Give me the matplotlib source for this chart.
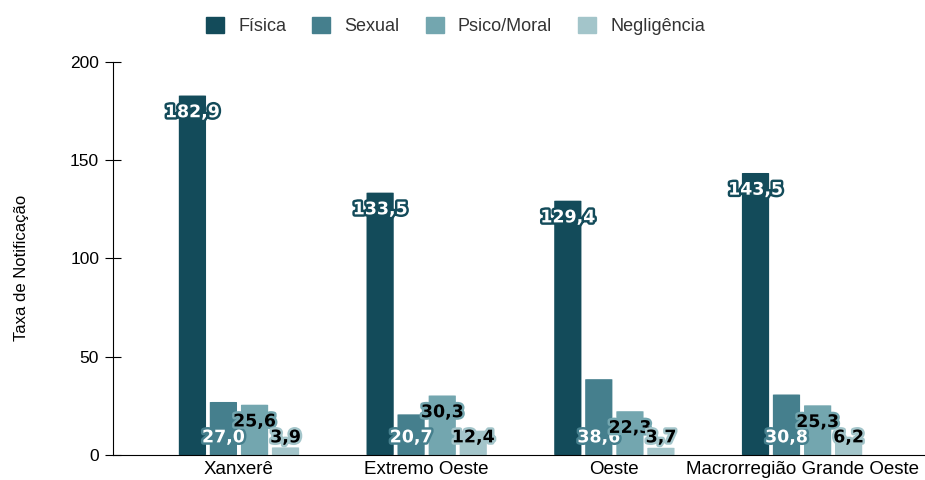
import numpy as np
import matplotlib
matplotlib.use("Agg")
import matplotlib.pyplot as plt
import matplotlib.patheffects as pe
from matplotlib.patches import FancyBboxPatch

regioes = ["Xanxerê", "Extremo Oeste", "Oeste", "Macrorregião Grande Oeste"]
series = ["Física", "Sexual", "Psico/Moral", "Negligência"]
fisica = [182.9, 133.5, 129.4, 143.5]
sexual = [27.0, 20.7, 38.6, 30.8]
psico = [25.6, 30.3, 22.3, 25.3]
neglig = [3.9, 12.4, 3.7, 6.2]

cores = ["#134b5a", "#457f8d", "#73a6af", "#a3c5ca"]
cor_texto = ["white", "white", "black", "black"]

plt.rcParams['font.family'] = ['Liberation Sans', 'DejaVu Sans']

fig = plt.figure(figsize=(9.25, 4.8), dpi=100)
ax = fig.add_axes([0.1222, 0.052, 0.8778, 0.819])

x = np.arange(len(regioes))
desloc = [-0.248, -0.083, 0.083, 0.248]
largura = 0.145
dados = [fisica, sexual, psico, neglig]

for i, vals in enumerate(dados):
    barras = ax.bar(x + desloc[i], vals, largura, color=cores[i], label=series[i])
    for b in barras:
        b.set_visible(False)
        p = FancyBboxPatch((b.get_x(), b.get_y()), b.get_width(), b.get_height(),
                           boxstyle="round,pad=0,rounding_size=0.012",
                           mutation_aspect=10.5, facecolor=cores[i],
                           edgecolor="none", clip_on=True)
        ax.add_patch(p)
    for xi, v in zip(x + desloc[i], vals):
        if i == 1:
            yl = 9.0
        else:
            yl = max(v - 8.5, 9.0)
        ax.text(xi, yl, f"{v:.1f}".replace(".", ","), ha="center", va="center",
                fontsize=12.5, fontweight="bold", family="DejaVu Sans",
                color=cor_texto[i],
                path_effects=[pe.withStroke(linewidth=3.5, foreground=cores[i])])

ax.set_ylim(0, 200)
ax.set_xlim(-0.671, 3.655)
ax.set_yticks([0, 50, 100, 150, 200])
ax.set_xticks(x)
ax.set_xticklabels(regioes, fontsize=13.5)
ax.tick_params(axis="x", length=0, pad=4)
ax.tick_params(axis="y", direction="inout", length=12, labelsize=12.5, pad=4)
ax.set_ylabel("Taxa de Notificação", fontsize=12)
ax.yaxis.set_label_coords(-0.104, 0.477)
for s in ["top", "right"]:
    ax.spines[s].set_visible(False)

h = [plt.Rectangle((0, 0), 1, 1, color=c) for c in cores]
fig.legend(h, series, loc="center", bbox_to_anchor=(0.4925, 0.946), ncol=4,
           frameon=False, fontsize=13, handlelength=1.0, handleheight=1.0,
           handletextpad=0.78, columnspacing=1.45, labelcolor="#333333")

fig.savefig("out.png", dpi=100)
